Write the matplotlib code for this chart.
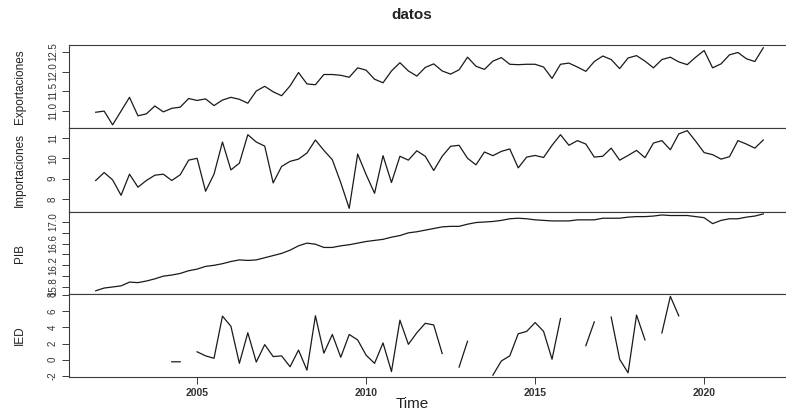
import numpy as np
import matplotlib
matplotlib.use('Agg')
import matplotlib.pyplot as plt

plt.rcParams['font.family'] = ['Liberation Sans', 'DejaVu Sans']
plt.rcParams['axes.unicode_minus'] = False

# ---- datos (trimestrales, 2002Q1 - 2021Q4) ----
tiempo = 2002 + np.arange(80) / 4

exportaciones = [
    10.97, 11.00, 10.65, 11.00, 11.35, 10.88, 10.93, 11.13, 10.98, 11.07,
    11.10, 11.32, 11.27, 11.31, 11.14, 11.28, 11.35, 11.30, 11.20, 11.51,
    11.63, 11.49, 11.39, 11.64, 11.98, 11.69, 11.67, 11.93, 11.93, 11.91,
    11.86, 12.10, 12.04, 11.81, 11.72, 12.02, 12.23, 12.02, 11.89, 12.11,
    12.20, 12.02, 11.94, 12.05, 12.37, 12.14, 12.06, 12.27, 12.36, 12.19,
    12.18, 12.19, 12.19, 12.12, 11.83, 12.19, 12.22, 12.12, 12.01, 12.26,
    12.40, 12.31, 12.08, 12.35, 12.41, 12.27, 12.10, 12.31, 12.37, 12.25,
    12.18, 12.37, 12.54, 12.10, 12.20, 12.43, 12.49, 12.33, 12.26, 12.61,
]

importaciones = [
    8.91, 9.30, 8.94, 8.18, 9.22, 8.58, 8.91, 9.17, 9.22, 8.91,
    9.19, 9.91, 10.00, 8.38, 9.22, 10.80, 9.43, 9.76, 11.16, 10.80,
    10.60, 8.79, 9.60, 9.85, 9.96, 10.26, 10.90, 10.39, 9.93, 8.80,
    7.54, 10.21, 9.20, 8.28, 10.13, 8.81, 10.10, 9.91, 10.37, 10.10,
    9.40, 10.10, 10.59, 10.64, 10.00, 9.68, 10.31, 10.13, 10.34, 10.46,
    9.53, 10.06, 10.14, 10.04, 10.64, 11.16, 10.64, 10.87, 10.70, 10.06,
    10.10, 10.50, 9.91, 10.14, 10.39, 10.03, 10.75, 10.87, 10.42, 11.20,
    11.36, 10.84, 10.28, 10.18, 9.96, 10.08, 10.87, 10.70, 10.50, 10.90,
]

pib = [
    15.73, 15.78, 15.80, 15.82, 15.89, 15.88, 15.91, 15.95, 16.00, 16.02,
    16.05, 16.10, 16.13, 16.18, 16.20, 16.23, 16.27, 16.30, 16.29, 16.30,
    16.34, 16.38, 16.42, 16.48, 16.56, 16.61, 16.59, 16.53, 16.53, 16.56,
    16.58, 16.61, 16.64, 16.66, 16.68, 16.72, 16.75, 16.80, 16.82, 16.85,
    16.88, 16.91, 16.92, 16.92, 16.96, 16.99, 17.00, 17.01, 17.03, 17.06,
    17.07, 17.06, 17.04, 17.03, 17.02, 17.02, 17.02, 17.04, 17.04, 17.04,
    17.07, 17.07, 17.07, 17.09, 17.10, 17.10, 17.11, 17.13, 17.12, 17.12,
    17.12, 17.10, 17.08, 16.97, 17.03, 17.06, 17.06, 17.09, 17.11, 17.15,
]

nan = np.nan
ied = [
    nan, nan, nan, nan, nan, nan, nan, nan, nan, -0.25,
    -0.25, nan, 0.98, 0.48, 0.18, 5.37, 4.12, -0.44, 3.32, -0.28,
    1.86, 0.39, 0.48, -0.86, 1.19, -1.28, 5.41, 0.81, 3.11, 0.31,
    3.11, 2.44, 0.56, -0.44, 2.07, -1.45, 4.87, 1.90, 3.32, 4.49,
    4.28, 0.77, nan, -0.90, 2.28, nan, nan, -1.90, -0.15, 0.48,
    3.20, 3.49, 4.58, 3.49, 0.06, 5.08, nan, nan, 1.73, 4.66,
    nan, 5.25, 0.06, -1.60, 5.50, 2.44, nan, 3.30, 7.80, 5.40,
    nan, nan, nan, nan, nan, nan, nan, nan, nan, nan,
]

series = [exportaciones, importaciones, pib, ied]
nombres = ['Exportaciones', 'Importaciones', 'PIB', 'IED']
ylims = [(10.57, 12.68), (7.36, 11.49), (15.67, 17.185), (-2.12, 8.09)]
yticks = [
    [11.0, 11.5, 12.0, 12.5],
    [8, 9, 10, 11],
    [15.8, 16.0, 16.2, 16.4, 16.6, 16.8, 17.0],
    [-2, 0, 2, 4, 6, 8],
]
yticklabels = [
    ['11.0', '11.5', '12.0', '12.5'],
    ['8', '9', '10', '11'],
    ['15.8', '', '16.2', '', '16.6', '', '17.0'],
    ['-2', '0', '2', '4', '6', '8'],
]
xticks = [2005, 2010, 2015, 2020]

# ---- layout (pixel positions of the original) ----
W, H = 786, 411
fig = plt.figure(figsize=(W / 100, H / 100), dpi=100)
left_px, right_px = 69, 790
bordes = [45, 128, 212, 294, 377]

LINE = '#1a1a1a'
EDGE = '#3a3a3a'

for i in range(4):
    top, bot = bordes[i], bordes[i + 1]
    ax = fig.add_axes([left_px / W, 1 - bot / H, (right_px - left_px) / W, (bot - top) / H])
    ax.plot(tiempo, series[i], color=LINE, lw=0.9)
    ax.set_xlim(2001.21, 2022.54)
    ax.set_ylim(*ylims[i])
    ax.set_yticks(yticks[i])
    ax.set_yticklabels(yticklabels[i], rotation=90, va='center',
                       fontsize=7, color='#333333')
    ax.tick_params(axis='y', length=5, width=0.7, color=EDGE, pad=3)
    for s in ax.spines.values():
        s.set_color(EDGE)
        s.set_linewidth(0.8)
    if i < 3:
        ax.set_xticks([])
    else:
        ax.set_xticks(xticks)
        ax.set_xticklabels([str(t) for t in xticks], fontsize=7.5,
                           color='#333333', fontweight='bold')
        ax.tick_params(axis='x', length=5, width=0.7, color=EDGE, pad=3)
    fig.text(20 / W, 1 - (top + bot) / 2 / H, nombres[i], rotation=90,
             ha='center', va='center', fontsize=8.5, color='#222222')

fig.text(412 / W, 1 - 15 / H, 'datos', ha='center', va='center',
         fontsize=11, fontweight='bold', color='#222222')
fig.text(412 / W, 1 - 404 / H, 'Time', ha='center', va='center',
         fontsize=11, color='#222222')

fig.savefig('out.png', dpi=100, facecolor='white')
